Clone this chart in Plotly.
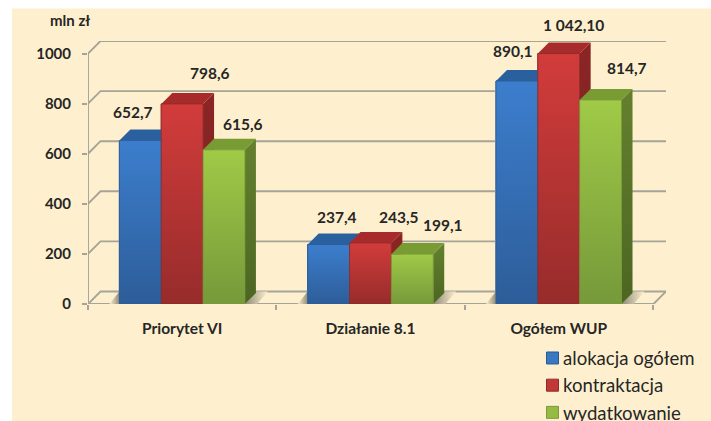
import plotly.graph_objects as go

categories = ["Priorytet VI", "Działanie 8.1", "Ogółem WUP"]
series_names = ["alokacja ogółem", "kontraktacja", "wydatkowanie"]
alokacja = [652.7, 237.4, 890.1]
kontraktacja = [798.6, 243.5, 1042.10]
wydatkowanie = [615.6, 199.1, 814.7]
alokacja_text = ["652,7", "237,4", "890,1"]
kontraktacja_text = ["798,6", "243,5", "1 042,10"]
wydatkowanie_text = ["615,6", "199,1", "814,7"]
y_ticks = [0, 200, 400, 600, 800, 1000]

W, H = 711, 421
AX_MAX = 1000
X0, X1, Y0 = 88, 666, 303.7
CAT_PX = 188.3
PX_Y = 0.2497  # px per value unit
WALL_X, WALL_Y = 12.5 / CAT_PX, 12.5 / PX_Y
BAR_DX, BAR_DY = 11 / CAT_PX, 11 / PX_Y
BAR_W = 2 / 9
y_top = AX_MAX + WALL_Y
x_lo, x_hi = -0.5, -0.5 + (X1 - X0) / CAT_PX
GRID = "#a6a497"
BG = "#fef0ce"
INK = "#262626"
FONT = "Lato"

styles = [
    dict(front=("#2d5d99", "#3c7ecd"), top=("#2b609f", "#2b609f"), side=("#23507f", "#23507f"), edge="#2a5a94", sw="#3a78c2"),
    dict(front=("#962c2b", "#d23c3b"), top=("#a62b2a", "#a62b2a"), side=("#7d2221", "#8a2625"), edge="#8c2c2b", sw="#c23836"),
    dict(front=("#76993a", "#a0ca47"), top=("#789c33", "#789c33"), side=("#4c6623", "#64802e"), edge="#7a9a3a", sw="#95bb42"),
]
values = [alokacja, kontraktacja, wydatkowanie]
texts = [alokacja_text, kontraktacja_text, wydatkowanie_text]
# label offsets from the bar's front-top centre, in px (dx, dy)
offsets = [
    [(-7, -29), (8, -28), (-4, -30)],
    [(28, -31), (29, -26), (15, -29)],
    [(19, -26), (31, -29), (26, -32)],
]

fig = go.Figure()


def poly(xs, ys, colors=None, gradient="vertical", line=None):
    kw = dict(x=xs + xs[:1], y=ys + ys[:1], mode="lines", fill="toself", hoverinfo="skip",
              showlegend=False, line=dict(width=0.8 if line else 0, color=line or "rgba(0,0,0,0)"))
    kw["fillgradient"] = dict(type=gradient, colorscale=[[0, colors[0]], [1, colors[1]]])
    kw["fillcolor"] = colors[0]
    fig.add_trace(go.Scatter(**kw))


def frame(xs, ys, w=1.9):
    fig.add_trace(go.Scatter(x=xs, y=ys, mode="lines", hoverinfo="skip", showlegend=False,
                             cliponaxis=False, line=dict(color=GRID, width=w)))


# native bars: carry the data, the scale and the legend
for s, (name, vals, st) in enumerate(zip(series_names, values, styles)):
    fig.add_trace(go.Bar(x=list(range(3)), y=[min(v, AX_MAX) for v in vals], name=name,
                         legendgroup=name, marker=dict(color=st["sw"], line=dict(color=st["edge"], width=1)),
                         offsetgroup=str(s), hoverinfo="skip"))

# back wall / floor frame
for t in y_ticks:
    frame([x_lo, x_lo + WALL_X, x_hi], [t, t + WALL_Y, t + WALL_Y])
frame([x_lo, x_lo], [0, AX_MAX])
frame([x_lo, x_hi - WALL_X, x_hi], [0, 0, WALL_Y])

# floor shadows
shadow = "#8f8b78"
for c in range(3):
    xl = c - 1.5 * BAR_W
    xr = c + 1.5 * BAR_W + 0.0
    poly([xl - 10 / CAT_PX, xl, xl], [0, 0, WALL_Y], colors=(BG, shadow), gradient="horizontal")
    poly([xr, xr + BAR_DX, xr + BAR_DX + 12 / CAT_PX, xr + 12 / CAT_PX], [0, WALL_Y, WALL_Y, 0],
         colors=(shadow, BG), gradient="horizontal")

# 3-D bars
for c in range(3):
    for s, st in enumerate(styles):
        v = min(values[s][c], AX_MAX)
        xa = c + (s - 1.5) * BAR_W
        xb = xa + BAR_W
        poly([xb, xb + BAR_DX, xb + BAR_DX, xb], [0, BAR_DY, v + BAR_DY, v], colors=st["side"])
        poly([xa, xa + BAR_DX, xb + BAR_DX, xb], [v, v + BAR_DY, v + BAR_DY, v], colors=st["top"])
        poly([xa, xb, xb, xa], [0, 0, v, v], colors=st["front"], line=st["edge"])

# value labels
for c in range(3):
    for s in range(3):
        dx, dy = offsets[s][c]
        v = min(values[s][c], AX_MAX)
        fig.add_annotation(x=c + (s - 1) * BAR_W, y=v, text=texts[s][c], showarrow=False,
                           xshift=dx, yshift=-dy, font=dict(family=FONT, size=15.5, color=INK, weight="bold"),
                           xanchor="center", yanchor="middle")

fig.add_annotation(xref="paper", yref="paper", x=(70 - X0) / (X1 - X0), y=1 + (41.5 - 21) / (Y0 - 41.5),
                   text="mln zł", showarrow=False, xanchor="center", yanchor="middle",
                   font=dict(family=FONT, size=15, color=INK, weight="bold"))

# beige panel with white page band along the top and left
fig.add_shape(type="rect", layer="below", xref="paper", yref="paper",
              x0=(12 - X0) / (X1 - X0), x1=(W - X0) / (X1 - X0),
              y0=-(H - Y0) / (Y0 - 41.5), y1=1 + (41.5 - 9) / (Y0 - 41.5),
              fillcolor=BG, line_width=0)

fig.update_layout(
    width=W, height=H, autosize=False,
    margin=dict(l=X0, r=W - X1, t=Y0 - (y_top * PX_Y), b=H - Y0, pad=0, autoexpand=False),
    paper_bgcolor="white", plot_bgcolor="rgba(0,0,0,0)",
    barmode="group", bargap=1 / 3, bargroupgap=0,
    font=dict(family=FONT, color=INK),
    legend=dict(xref="paper", yref="paper", xanchor="left", yanchor="top",
                x=(523 - X0) / (X1 - X0), y=-(339 - Y0) / (Y0 - 41.5),
                bgcolor="rgba(0,0,0,0)", font=dict(family=FONT, size=18.6, color=INK),
                tracegroupgap=5, itemclick=False, itemdoubleclick=False, traceorder="normal"),
    xaxis=dict(range=[x_lo, x_hi], tickmode="array", tickvals=list(range(3)), ticktext=categories,
               showgrid=False, zeroline=False, showline=False, ticks="", ticklabelstandoff=13,
               tickfont=dict(family=FONT, size=15.5, color=INK, weight="bold"),
               minor=dict(tickmode="array", tickvals=[-0.5, 0.5, 1.5, 2.5], ticks="outside", ticklen=5,
                          tickcolor=GRID, tickwidth=1.7, showgrid=False)),
    yaxis=dict(range=[0, y_top], tickmode="array", tickvals=y_ticks, showgrid=False, zeroline=False,
               showline=False, ticks="outside", ticklen=5, tickcolor=GRID, tickwidth=1.7,
               ticklabelstandoff=8, tickfont=dict(family=FONT, size=15, color=INK, weight="bold")),
)

post = """
document.body.style.margin='0';document.body.style.overflow='hidden';
function nudge(){document.querySelectorAll('.legend .legendpoints').forEach(function(e){e.setAttribute('transform','translate(9.5,0)');});}
nudge();setTimeout(nudge,50);setTimeout(nudge,300);
"""
fig.write_html("out.html", config=dict(displayModeBar=False), post_script=post)
